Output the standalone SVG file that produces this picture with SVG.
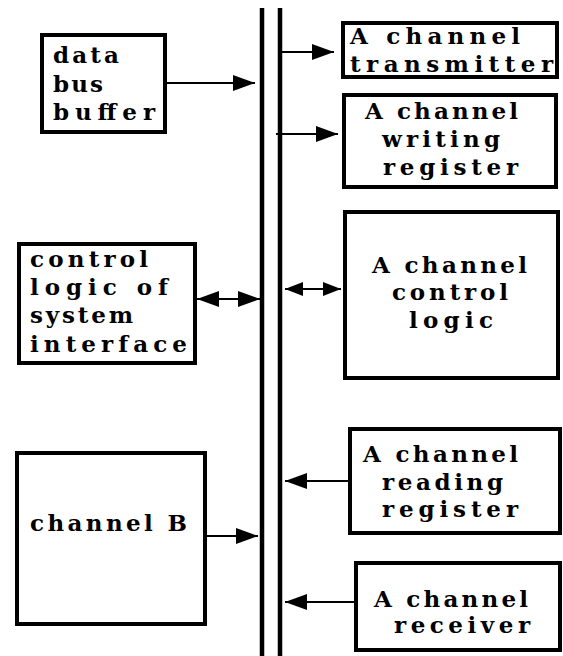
<svg xmlns="http://www.w3.org/2000/svg" width="563" height="656" viewBox="0 0 563 656">
  <style>
    .box { fill: #fff; stroke: #000; stroke-width: 4; }
    .lbl { font-family: "DejaVu Serif", "Liberation Serif", serif; font-weight: bold; font-size: 23px; fill: #000; }
    .wire { stroke: #000; stroke-width: 2; fill: none; }
    .bus { stroke: #000; stroke-width: 4.5; }
  </style>
  <defs>
    <marker id="arrow" markerUnits="userSpaceOnUse" markerWidth="24" markerHeight="18" refX="22" refY="9" orient="auto-start-reverse">
      <path d="M0,1 L22,9 L0,17 Z" fill="#000"/>
    </marker>
    <marker id="arrow-s" markerUnits="userSpaceOnUse" markerWidth="20" markerHeight="18" refX="18" refY="9" orient="auto-start-reverse">
      <path d="M0,2 L18,9 L0,16 Z" fill="#000"/>
    </marker>
  </defs>

  <!-- system bus: two parallel rails -->
  <g id="bus">
    <line class="bus" x1="262" y1="8" x2="262" y2="656"/>
    <line class="bus" x1="280" y1="8" x2="280" y2="656"/>
  </g>

  <g id="connectors">
    <line class="wire" x1="166" y1="83" x2="255" y2="83" marker-end="url(#arrow)"/>
    <line class="wire" x1="282" y1="52" x2="334" y2="52" marker-end="url(#arrow)"/>
    <line class="wire" x1="276" y1="134" x2="338" y2="134" marker-end="url(#arrow)"/>
    <line class="wire" x1="197" y1="299" x2="260" y2="299" marker-start="url(#arrow)" marker-end="url(#arrow)"/>
    <line class="wire" x1="285" y1="289" x2="341" y2="289" marker-start="url(#arrow-s)" marker-end="url(#arrow-s)"/>
    <line class="wire" x1="206" y1="536" x2="258" y2="536" marker-end="url(#arrow)"/>
    <line class="wire" x1="348" y1="481" x2="285" y2="481" marker-end="url(#arrow)"/>
    <line class="wire" x1="354" y1="602" x2="285" y2="602" marker-end="url(#arrow)"/>
  </g>

  <g id="data-bus-buffer">
    <rect class="box" x="42" y="35" width="123" height="97"/>
    <text class="lbl" x="53" y="63" textLength="66" lengthAdjust="spacing">data</text>
    <text class="lbl" x="53" y="92" textLength="50" lengthAdjust="spacing">bus</text>
    <text class="lbl" x="53" y="120" textLength="102" lengthAdjust="spacing">buffer</text>
  </g>

  <g id="a-channel-transmitter">
    <rect class="box" x="343" y="23" width="214" height="54"/>
    <text class="lbl" x="350" y="44" textLength="170" lengthAdjust="spacing">A  channel</text>
    <text class="lbl" x="350" y="72" textLength="203" lengthAdjust="spacing">transmitter</text>
  </g>

  <g id="a-channel-writing-register">
    <rect class="box" x="344" y="95" width="212" height="92"/>
    <text class="lbl" x="365" y="119" textLength="153" lengthAdjust="spacing">A channel</text>
    <text class="lbl" x="382" y="147" textLength="118" lengthAdjust="spacing">writing</text>
    <text class="lbl" x="383" y="175" textLength="135" lengthAdjust="spacing">register</text>
  </g>

  <g id="control-logic-of-system-interface">
    <rect class="box" x="19" y="244" width="176" height="119"/>
    <text class="lbl" x="30" y="267" textLength="118" lengthAdjust="spacing">control</text>
    <text class="lbl" x="30" y="295" textLength="138" lengthAdjust="spacing">logic of</text>
    <text class="lbl" x="30" y="323" textLength="103" lengthAdjust="spacing">system</text>
    <text class="lbl" x="30" y="352" textLength="157" lengthAdjust="spacing">interface</text>
  </g>

  <g id="a-channel-control-logic">
    <rect class="box" x="345" y="212" width="213" height="166"/>
    <text class="lbl" x="372" y="273" textLength="155" lengthAdjust="spacing">A channel</text>
    <text class="lbl" x="392" y="300" textLength="116" lengthAdjust="spacing">control</text>
    <text class="lbl" x="409" y="328" textLength="84" lengthAdjust="spacing">logic</text>
  </g>

  <g id="a-channel-reading-register">
    <rect class="box" x="350" y="429" width="210" height="104"/>
    <text class="lbl" x="363" y="462" textLength="155" lengthAdjust="spacing">A channel</text>
    <text class="lbl" x="382" y="490" textLength="121" lengthAdjust="spacing">reading</text>
    <text class="lbl" x="382" y="517" textLength="136" lengthAdjust="spacing">register</text>
  </g>

  <g id="channel-b">
    <rect class="box" x="17" y="453" width="188" height="171"/>
    <text class="lbl" x="30" y="531" textLength="157" lengthAdjust="spacing">channel B</text>
  </g>

  <g id="a-channel-receiver">
    <rect class="box" x="356" y="563" width="204" height="87"/>
    <text class="lbl" x="374" y="607" textLength="154" lengthAdjust="spacing">A channel</text>
    <text class="lbl" x="394" y="633" textLength="136" lengthAdjust="spacing">receiver</text>
  </g>
</svg>
